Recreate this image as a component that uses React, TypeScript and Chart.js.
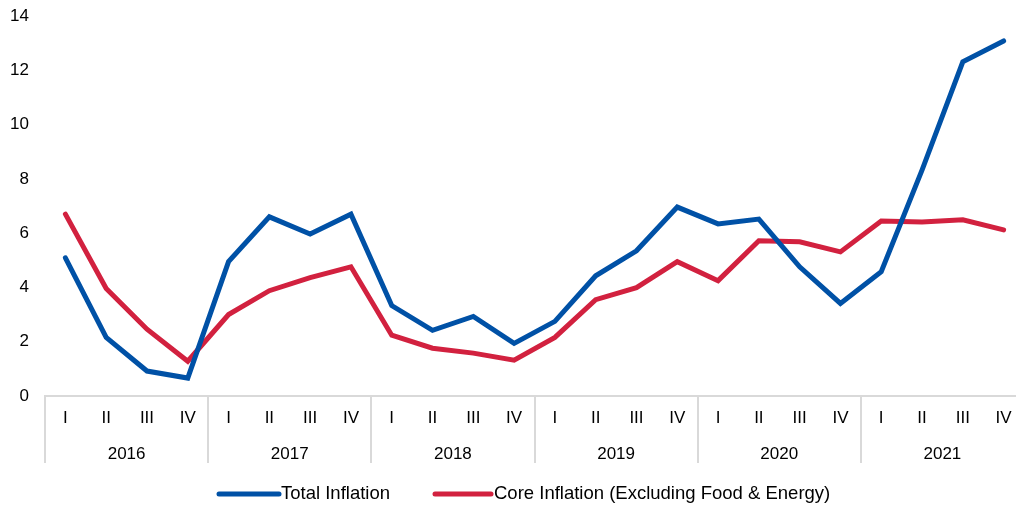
import React, { useEffect, useRef } from "react";
import { Chart, registerables } from "chart.js";

Chart.register(...registerables);

const quarters = [
  "I", "II", "III", "IV",
  "I", "II", "III", "IV",
  "I", "II", "III", "IV",
  "I", "II", "III", "IV",
  "I", "II", "III", "IV",
  "I", "II", "III", "IV",
];
const years = ["2016", "2017", "2018", "2019", "2020", "2021"];

const totalInflation = [
  5.09, 2.16, 0.92, 0.66,
  4.95, 6.6, 5.97, 6.7,
  3.33, 2.42, 2.93, 1.94,
  2.75, 4.43, 5.35, 6.96,
  6.34, 6.52, 4.76, 3.41,
  4.58, 8.32, 12.31, 13.08,
];
const coreInflation = [
  6.7, 3.96, 2.46, 1.28,
  3.0, 3.88, 4.36, 4.76,
  2.24, 1.76, 1.58, 1.32,
  2.16, 3.55, 3.99, 4.95,
  4.25, 5.72, 5.68, 5.31,
  6.45, 6.41, 6.49, 6.12,
];
const yTicks = [0, 2, 4, 6, 8, 10, 12, 14];

const seriesNames = ["Total Inflation", "Core Inflation (Excluding Food & Energy)"];
const BLUE = "#0051A6";
const RED = "#D2213F";
const FONT = "'Liberation Sans', Arial, sans-serif";

const groupPlugin = {
  id: "groupPlugin",
  afterDraw(chart: any) {
    const { ctx, chartArea, scales } = chart;
    const x = scales.x;
    const n = quarters.length;
    const per = n / years.length;
    ctx.save();
    ctx.strokeStyle = "#D9D9D9";
    ctx.lineWidth = 2;
    for (let g = 0; g <= years.length; g++) {
      let px: number;
      if (g === 0) px = chartArea.left;
      else if (g === years.length) px = chartArea.right;
      else px = (x.getPixelForValue(g * per - 1) + x.getPixelForValue(g * per)) / 2;
      ctx.beginPath();
      ctx.moveTo(Math.round(px), chartArea.bottom);
      ctx.lineTo(Math.round(px), 463);
      ctx.stroke();
    }
    ctx.fillStyle = "#000";
    ctx.font = `17px ${FONT}`;
    ctx.textAlign = "center";
    ctx.textBaseline = "middle";
    years.forEach((yr, g) => {
      const a = x.getPixelForValue(g * per);
      const b = x.getPixelForValue(g * per + per - 1);
      ctx.fillText(yr, (a + b) / 2, 454);
    });

    // legend
    const legendY = 494;
    const items = [
      { color: BLUE, x0: 219, x1: 279, tx: 281, label: seriesNames[0] },
      { color: RED, x0: 435, x1: 491, tx: 494, label: seriesNames[1] },
    ];
    ctx.font = `18.5px ${FONT}`;
    ctx.textAlign = "left";
    items.forEach((it) => {
      ctx.strokeStyle = it.color;
      ctx.lineWidth = 5;
      ctx.lineCap = "round";
      ctx.beginPath();
      ctx.moveTo(it.x0, legendY);
      ctx.lineTo(it.x1, legendY);
      ctx.stroke();
      ctx.fillStyle = "#000";
      ctx.fillText(it.label, it.tx, legendY);
    });
    ctx.restore();
  },
};

export default function App() {
  const ref = useRef<HTMLCanvasElement | null>(null);
  useEffect(() => {
    if (!ref.current) return;
    const chart = new Chart(ref.current, {
      type: "line",
      data: {
        labels: quarters,
        datasets: [
          {
            label: seriesNames[0],
            data: totalInflation,
            borderColor: BLUE,
            backgroundColor: BLUE,
            borderWidth: 5,
            pointRadius: 0,
            tension: 0,
            borderCapStyle: "round",
          },
          {
            label: seriesNames[1],
            data: coreInflation,
            borderColor: RED,
            backgroundColor: RED,
            borderWidth: 5,
            pointRadius: 0,
            tension: 0,
            borderCapStyle: "round",
          },
        ],
      },
      options: {
        animation: false,
        responsive: false,
        devicePixelRatio: 1,
        layout: { padding: { top: 16, left: 0, right: 0, bottom: 0 } },
        plugins: {
          legend: { display: false },
          tooltip: { enabled: false },
        },
        scales: {
          x: {
            offset: true,
            grid: { display: false, drawTicks: false },
            border: { display: true, color: "#D9D9D9", width: 2 },
            ticks: {
              color: "#000",
              font: { family: FONT, size: 17 },
              padding: 12,
              maxRotation: 0,
              autoSkip: false,
            },
            afterFit(scale: any) {
              scale.height = 112;
              scale.paddingLeft = 0;
              scale.paddingRight = 0;
            },
          },
          y: {
            min: 0,
            max: 14,
            afterBuildTicks(scale: any) {
              scale.ticks = yTicks.map((v) => ({ value: v }));
            },
            grid: { display: false, drawTicks: false },
            border: { display: false },
            ticks: {
              color: "#000",
              font: { family: FONT, size: 17 },
              padding: 16,
            },
            afterFit(scale: any) {
              scale.width = 45;
              scale.paddingTop = 0;
              scale.paddingBottom = 0;
            },
          },
        },
      },
      plugins: [groupPlugin],
    });
    return () => chart.destroy();
  }, []);
  return (
    <div
      style={{
        position: "fixed",
        left: 0,
        top: 0,
        width: 1016,
        height: 508,
        overflow: "hidden",
        background: "#fff",
      }}
    >
      <canvas ref={ref} width={1024} height={508} style={{ display: "block" }} />
    </div>
  );
}
